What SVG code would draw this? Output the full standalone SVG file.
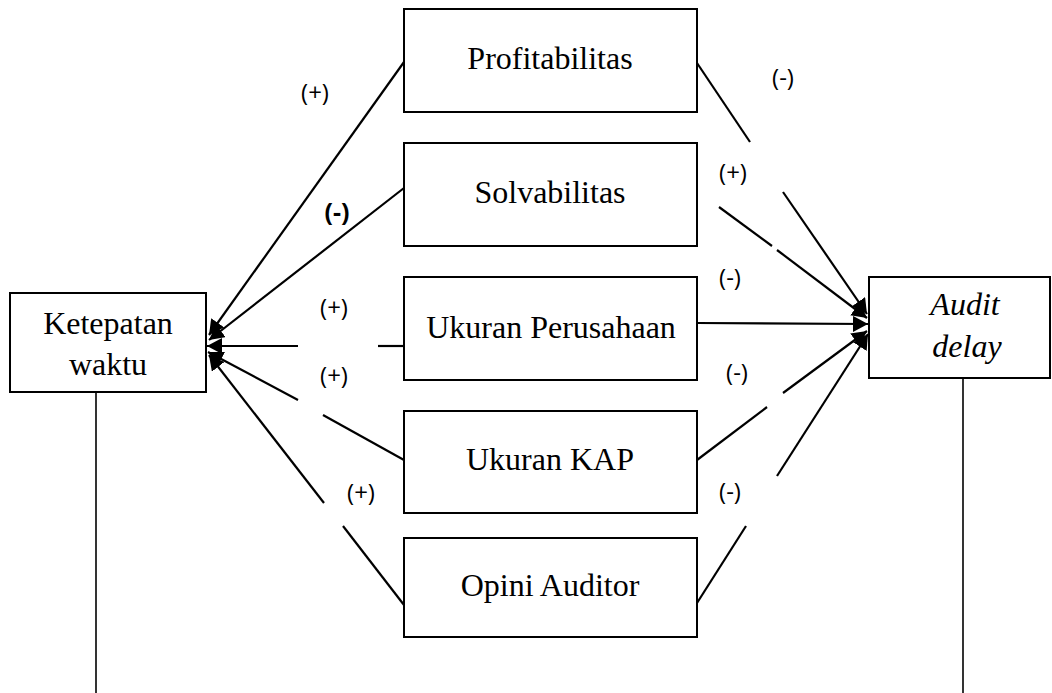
<svg xmlns="http://www.w3.org/2000/svg" width="1052" height="693" viewBox="0 0 1052 693">
<style>
.box{fill:#fff;stroke:#000;stroke-width:2}
.t{font-family:"Liberation Serif","Times New Roman",serif;font-size:32px;fill:#000;text-anchor:middle}
.it{font-style:italic}
.lbl{font-family:"Open Sans","Liberation Sans",sans-serif;font-size:24px;fill:#000;text-anchor:middle}
.b{font-weight:bold;font-size:25px}
.c{stroke:#000;stroke-width:2.2;fill:none}
.v{stroke:#000;stroke-width:1.6;fill:none}
</style>
<defs>
<marker id="ah" markerUnits="userSpaceOnUse" markerWidth="18" markerHeight="18" refX="15" refY="8" orient="auto">
<path d="M0,0 L15,8 L0,16 z" fill="#000"/>
</marker>
</defs>
<g id="connectors">
<line class="c" x1="404" y1="62" x2="209" y2="335" marker-end="url(#ah)"/>
<line class="c" x1="404" y1="188" x2="209" y2="340" marker-end="url(#ah)"/>
<line class="c" x1="404" y1="346" x2="378" y2="346"/>
<line class="c" x1="298" y1="346" x2="207" y2="346" marker-end="url(#ah)"/>
<line class="c" x1="404" y1="460" x2="323" y2="415"/>
<line class="c" x1="298" y1="400" x2="208" y2="352" marker-end="url(#ah)"/>
<line class="c" x1="404" y1="605" x2="343" y2="526"/>
<line class="c" x1="324" y1="503" x2="209" y2="355" marker-end="url(#ah)"/>
<line class="c" x1="697" y1="63" x2="750" y2="142"/>
<line class="c" x1="783" y1="192" x2="867" y2="314" marker-end="url(#ah)"/>
<line class="c" x1="719" y1="207" x2="772" y2="246"/>
<line class="c" x1="777" y1="250" x2="867" y2="318" marker-end="url(#ah)"/>
<line class="c" x1="697" y1="323" x2="868" y2="324" marker-end="url(#ah)"/>
<line class="c" x1="697" y1="460" x2="767" y2="407"/>
<line class="c" x1="783" y1="393" x2="867" y2="331" marker-end="url(#ah)"/>
<line class="c" x1="697" y1="603" x2="746" y2="526"/>
<line class="c" x1="777" y1="476" x2="868" y2="334" marker-end="url(#ah)"/>
<line class="v" x1="96" y1="392" x2="96" y2="693"/>
<line class="v" x1="963" y1="378" x2="963" y2="693"/>
</g>
<g id="labels">
<text class="lbl" x="315" y="101">(+)</text>
<text class="lbl b" x="337" y="221">(-)</text>
<text class="lbl" x="334" y="316">(+)</text>
<text class="lbl" x="334" y="384">(+)</text>
<text class="lbl" x="361" y="501">(+)</text>
<text class="lbl" x="783" y="86">(-)</text>
<text class="lbl" x="733" y="181">(+)</text>
<text class="lbl" x="730" y="286">(-)</text>
<text class="lbl" x="737" y="381">(-)</text>
<text class="lbl" x="730" y="500">(-)</text>
</g>
<g id="node-ketepatan">
<rect class="box" x="10" y="293" width="196" height="99"/>
<text class="t" x="108" y="334">Ketepatan</text>
<text class="t" x="108" y="375">waktu</text>
</g>
<g id="node-profitabilitas">
<rect class="box" x="404" y="9" width="293" height="103"/>
<text class="t" x="550" y="69">Profitabilitas</text>
</g>
<g id="node-solvabilitas">
<rect class="box" x="404" y="143" width="293" height="103"/>
<text class="t" x="550" y="203">Solvabilitas</text>
</g>
<g id="node-ukuran-perusahaan">
<rect class="box" x="404" y="277" width="293" height="103"/>
<text class="t" x="551" y="338">Ukuran Perusahaan</text>
</g>
<g id="node-ukuran-kap">
<rect class="box" x="404" y="411" width="293" height="102"/>
<text class="t" x="550" y="470">Ukuran KAP</text>
</g>
<g id="node-opini-auditor">
<rect class="box" x="404" y="538" width="293" height="99"/>
<text class="t" x="550" y="596">Opini Auditor</text>
</g>
<g id="node-audit-delay">
<rect class="box" x="869" y="277" width="181" height="101"/>
<text class="t it" x="965" y="315">Audit</text>
<text class="t it" x="967" y="357">delay</text>
</g>
</svg>
